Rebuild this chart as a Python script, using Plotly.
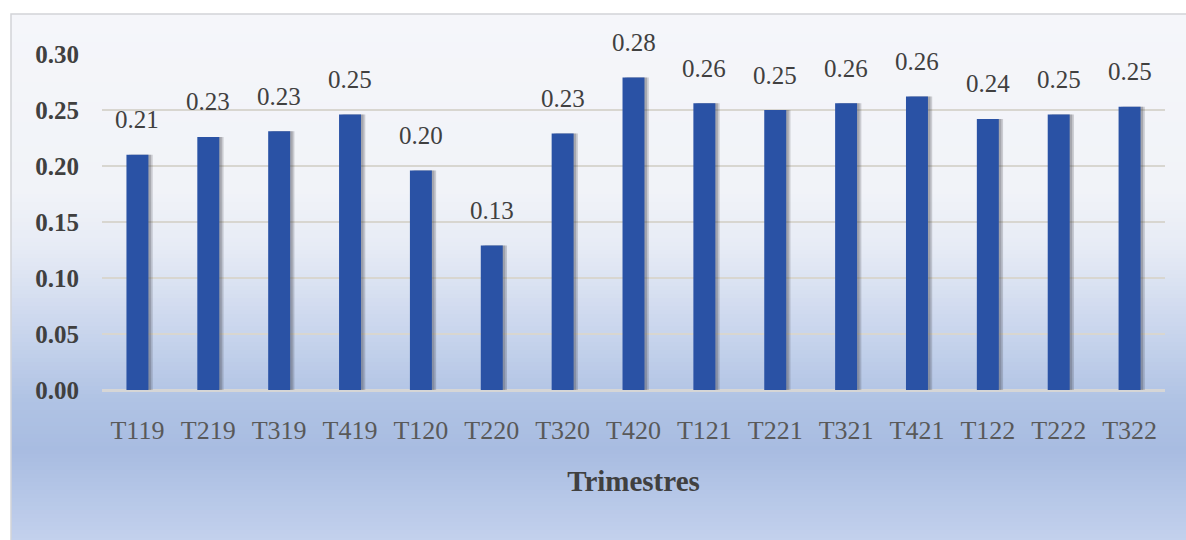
import plotly.graph_objects as go

# Quarterly values
trimestres = ["T119", "T219", "T319", "T419", "T120", "T220", "T320", "T420",
              "T121", "T221", "T321", "T421", "T122", "T222", "T322"]
valeurs = [0.210, 0.226, 0.231, 0.246, 0.196, 0.129, 0.229, 0.279,
           0.256, 0.250, 0.256, 0.262, 0.242, 0.246, 0.253]
y_ticks = [0.00, 0.05, 0.10, 0.15, 0.20, 0.25, 0.30]

W, H = 1186, 540
ML, MR, MT, MB = 102, 21, 54, 150
PW, PH = W - ML - MR, H - MT - MB

SERIF = "Liberation Serif, Times New Roman, serif"


def px_to_paper_x(px):
    return (px - ML) / PW


def px_to_paper_y(py):
    return 1 - (py - MT) / PH


def hex_to_rgb(h):
    h = h.lstrip("#")
    return tuple(int(h[i:i + 2], 16) for i in (0, 2, 4))


# Background gradient stops (pixel row, colour)
stops = [(14, "#f5f6fa"), (190, "#f1f3f8"), (250, "#e6ebf5"), (320, "#cdd8ee"),
         (400, "#b0c3e4"), (450, "#a8bce1"), (540, "#c3d1ed")]


def colour_at(py):
    for (y0, c0), (y1, c1) in zip(stops, stops[1:]):
        if y0 <= py <= y1:
            t = (py - y0) / (y1 - y0)
            a, b = hex_to_rgb(c0), hex_to_rgb(c1)
            r = [round(a[i] + (b[i] - a[i]) * t) for i in range(3)]
            return f"rgb({r[0]},{r[1]},{r[2]})"
    return stops[-1][1]


shapes = []
band = 4
for py in range(14, H, band):
    shapes.append(dict(
        type="rect", xref="paper", yref="paper", layer="below",
        x0=px_to_paper_x(11), x1=px_to_paper_x(W + 5),
        y0=px_to_paper_y(py + band + 0.5), y1=px_to_paper_y(py),
        fillcolor=colour_at(py + band / 2), line=dict(width=0),
    ))
# Frame around the chart area
shapes.append(dict(
    type="rect", xref="paper", yref="paper", layer="below",
    x0=px_to_paper_x(11), x1=px_to_paper_x(W + 20),
    y0=px_to_paper_y(H + 20), y1=px_to_paper_y(14),
    fillcolor="rgba(0,0,0,0)", line=dict(color="#d2d4d8", width=1.5),
))

fig = go.Figure()

# Soft shadow to the right of each bar
fig.add_trace(go.Bar(
    x=trimestres, y=valeurs, width=0.31, offset=-0.155 + 0.06,
    marker=dict(color="rgba(60,60,70,0.22)", line=dict(width=0)),
    hoverinfo="skip", showlegend=False,
))
fig.add_trace(go.Bar(
    x=trimestres, y=valeurs, width=0.31, offset=-0.155 + 0.035,
    marker=dict(color="rgba(60,60,70,0.25)", line=dict(width=0)),
    hoverinfo="skip", showlegend=False,
))
fig.add_trace(go.Bar(
    x=trimestres, y=valeurs, width=0.31, offset=-0.155,
    marker=dict(color="#2a52a5", line=dict(width=0)),
    showlegend=False,
))

annotations = [
    dict(x=t, y=v, text=f"{v:.2f}", showarrow=False, yanchor="middle", yshift=35,
         font=dict(family=SERIF, size=25, color="#404040"))
    for t, v in zip(trimestres, valeurs)
]

fig.update_layout(
    width=W, height=H,
    margin=dict(l=ML, r=MR, t=MT, b=MB),
    paper_bgcolor="white", plot_bgcolor="rgba(0,0,0,0)",
    barmode="overlay", bargap=0.6,
    shapes=shapes, annotations=annotations,
    xaxis=dict(
        type="category", showgrid=False, zeroline=False, showline=False,
        ticks="", ticklabelstandoff=22,
        tickfont=dict(family=SERIF, size=26, color="#595959"),
        title=dict(text="<b>Trimestres</b>", standoff=26,
                   font=dict(family=SERIF, size=29, color="#404040")),
    ),
    yaxis=dict(
        range=[0, 0.30], tickvals=y_ticks, tickformat=".2f",
        showgrid=True, gridcolor="#d8d6d0", gridwidth=1.5,
        zeroline=True, zerolinecolor="#d6d6d6", zerolinewidth=2.5,
        showline=False, ticks="", ticklabelstandoff=22,
        tickfont=dict(family=SERIF, size=25, color="#404040", weight="bold"),
    ),
)

fig.write_html("out.html")
